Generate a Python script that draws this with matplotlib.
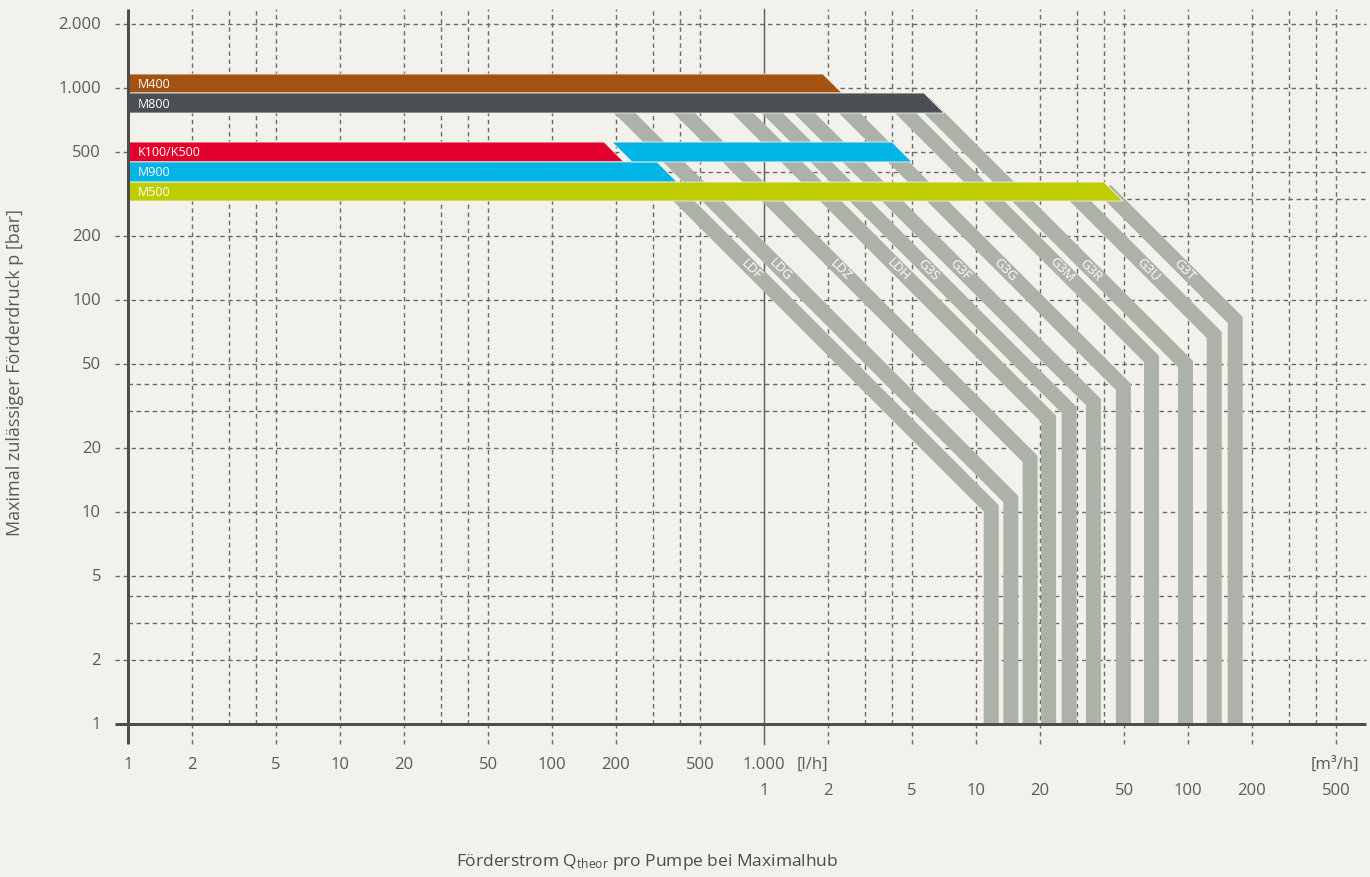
import numpy as np
import matplotlib
matplotlib.use('Agg')
import matplotlib.pyplot as plt
from matplotlib.transforms import blended_transform_factory

# ---------------- data ----------------
x_ticks_lh = [1, 2, 5, 10, 20, 50, 100, 200, 500, 1000]
x_labels_lh = ['1', '2', '5', '10', '20', '50', '100', '200', '500', '1.000']
x_ticks_m3h = [1, 2, 5, 10, 20, 50, 100, 200, 500]
x_labels_m3h = ['1', '2', '5', '10', '20', '50', '100', '200', '500']
y_ticks = [1, 2, 5, 10, 20, 50, 100, 200, 500, 1000, 2000]
y_labels = ['1', '2', '5', '10', '20', '50', '100', '200', '500', '1.000', '2.000']
grid_mult = [1, 2, 3, 4, 5]

# pump heads (horizontal bars): pressure range [bar], max flow at upper edge [l/h]
head_names = ['M400', 'M800', 'K100/K500', 'M900', 'M500']
head_p_top = [1164, 947, 556, 448, 360]
head_p_bottom = [947, 762, 448, 360, 293]
head_q_end = [1898, 5687, 176, 313, 40170]
head_colors = ['#A4520F', '#4A4F52', '#E2002C', '#00B5E6', '#BFCD00']

# second (cyan) segment in the K100/K500 row [l/h]
kext_q_start = 192
kext_q_end = 4015

# drives (grey power bands): max flow [m3/h], knee pressure [bar], start pressure [bar]
drive_names = ['LDF', 'LDG', 'LDZ', 'LDH', 'G3S', 'G3F', 'G3G', 'G3M', 'G3R', 'G3U', 'G3T']
drive_q_max = [11.8, 14.6, 18.0, 22.0, 27.5, 35.8, 49.6, 67.3, 97.3, 133, 167]
drive_p_knee = [10.4, 11.5, 17.8, 27.5, 30.3, 33.0, 38.9, 52.7, 49.9, 68.4, 80.5]
drive_p_start = [400, 850, 850, 850, 850, 850, 850, 850, 850, 330, 330]
label_p = 140

# ---------------- style / layout ----------------
W, H, DPI = 1370, 878, 100
BG = '#F2F1EC'
GRID = '#6A6A6A'
AXC = '#4D4D4D'
TXT = '#5A5A5A'
BAND = '#ADB2A9'
FONT = ['Open Sans', 'DejaVu Sans']
plt.rcParams['font.family'] = FONT
plt.rcParams['mathtext.fontset'] = 'custom'
plt.rcParams['mathtext.rm'] = 'Open Sans'
plt.rcParams['mathtext.it'] = 'Open Sans'

AX_L, AX_R, AX_T, AX_B = 128, 1366, 10, 725   # pixel frame
PPD = 212.0                                      # pixels per decade
fig = plt.figure(figsize=(W / DPI, H / DPI), dpi=DPI)
fig.patch.set_facecolor(BG)
ax = fig.add_axes([AX_L / W, 1 - AX_B / H, (AX_R - AX_L) / W, (AX_B - AX_T) / H])
ax.set_facecolor(BG)
ax.set_xscale('log')
ax.set_yscale('log')
ax.set_xlim(1, 10 ** ((AX_R - AX_L) / PPD))
ax.set_ylim(1, 10 ** ((AX_B - AX_T) / PPD))
for s in ax.spines.values():
    s.set_visible(False)
ax.set_xticks([])
ax.set_yticks([])
ax.minorticks_off()

axw = AX_R - AX_L
axh = AX_B - AX_T
ext_left = -13 / axw
ext_down = -20 / axh
px = 72.0 / DPI
dash = dict(linestyle=(0, (3.2, 2.6)), linewidth=1.0, color=GRID)

xmax = 10 ** (axw / PPD)
ymax = 10 ** (axh / PPD)

# vertical grid lines
lab_x = set(x_ticks_lh) | set(v * 1000 for v in x_ticks_m3h)
dec = 1
while dec < xmax:
    for m in grid_mult:
        v = dec * m
        if v <= 1 or v > xmax or v == 1000:
            continue
        ymin = ext_down if v in lab_x else 0
        ax.axvline(v, ymin=ymin, ymax=1, clip_on=False, zorder=1, **dash)
    dec *= 10

# horizontal grid lines
dec = 1
while dec < ymax:
    for m in grid_mult:
        v = dec * m
        if v <= 1 or v > ymax:
            continue
        xmin = ext_left if v in y_ticks else 0
        ax.axhline(v, xmin=xmin, xmax=1, clip_on=False, zorder=1, **dash)
    dec *= 10

# 1000 l/h separator
ax.axvline(1000, ymin=ext_down, ymax=1, color='#5E5E5E', lw=1.05,
           clip_on=False, zorder=1.5)

# grey drive bands
for name, q, pk, ps in zip(drive_names, drive_q_max, drive_p_knee, drive_p_start):
    qk = q * 1000
    q0 = qk * pk / ps
    ax.plot([q0, qk, qk], [ps, pk, 0.5], color=BAND, lw=15 * px,
            solid_joinstyle='miter', solid_capstyle='butt', zorder=2)
    ql = qk * pk / label_p
    ax.text(ql, label_p, name, color='white', fontsize=9.5, rotation=-45,
            rotation_mode='anchor', ha='center', va='center', zorder=4)

# pump head bars
for name, pt, pb, qe, c in zip(head_names, head_p_top, head_p_bottom, head_q_end, head_colors):
    r = pt / pb
    ax.fill([1, 1, qe, qe * r], [pb, pt, pt, pb], color=c, zorder=3,
            edgecolor=BG, linewidth=0.6)
    ax.annotate(name, xy=(1, np.sqrt(pt * pb)), xytext=(10, 0), textcoords='offset pixels',
                color='white', fontsize=9, ha='left', va='center', zorder=4)
# cyan extension in K row
pt, pb = head_p_top[2], head_p_bottom[2]
r = pt / pb
ax.fill([kext_q_start, kext_q_end, kext_q_end * r, kext_q_start * r], [pt, pt, pb, pb],
        color=head_colors[3], zorder=3, edgecolor=BG, linewidth=0.6)

# axis lines
ax.axhline(1, xmin=ext_left, xmax=1, color=AXC, lw=3 * px, clip_on=False, zorder=5,
           solid_capstyle='butt')
ax.axvline(1, ymin=ext_down, ymax=1, color=AXC, lw=3 * px, clip_on=False, zorder=5,
           solid_capstyle='butt')

# tick labels
FS = 12
tx = blended_transform_factory(ax.transData, fig.transFigure)
ty = blended_transform_factory(fig.transFigure, ax.transData)
for v, s in zip(x_ticks_lh, x_labels_lh):
    ax.text(v, 1 - 765 / H, s, transform=tx, ha='center', va='center', fontsize=FS, color=TXT)
for v, s in zip(x_ticks_m3h, x_labels_m3h):
    ax.text(v * 1000, 1 - 791 / H, s, transform=tx, ha='center', va='center', fontsize=FS, color=TXT)
for v, s in zip(y_ticks, y_labels):
    ax.text(101 / W, v, s, transform=ty, ha='right', va='center', fontsize=FS, color=TXT)

fig.text(797 / W, 1 - 765 / H, '[l/h]', ha='left', va='center', fontsize=FS, color=TXT)
fig.text(1359 / W, 1 - 765 / H, '[m³/h]', ha='right', va='center', fontsize=FS, color=TXT)

fig.text(15 / W, 1 - 372 / H, 'Maximal zulässiger Förderdruck p [bar]', rotation=90,
         ha='center', va='center', fontsize=13, color=TXT)
fig.text(647 / W, 1 - 862 / H, r'Förderstrom Q$_{\mathrm{theor}}$ pro Pumpe bei Maximalhub',
         ha='center', va='center', fontsize=12.5, color='#4A4A4A')

fig.savefig('out.png', dpi=DPI, facecolor=BG)
